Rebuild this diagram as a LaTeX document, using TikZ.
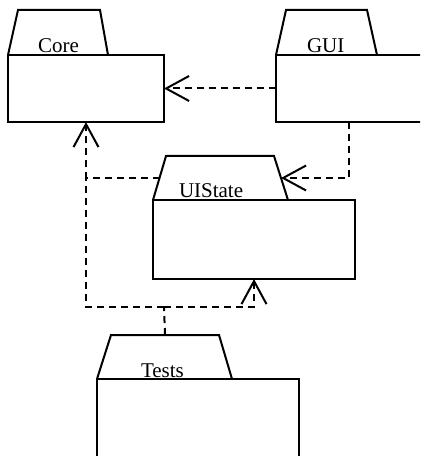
\documentclass[tikz,border=0pt]{standalone}
\usepackage{fontspec}
\setmainfont{Liberation Serif}
\usetikzlibrary{arrows.meta}
\begin{document}
\begin{tikzpicture}[x=1bp,y=-1bp,
  line width=2bp,
  body/.style={draw, rectangle, anchor=north west, outer sep=0pt, inner sep=0pt},
  tab/.style={draw, line join=miter},
  pkglabel/.style={anchor=base west, inner sep=0pt, font=\fontsize{21bp}{25bp}\selectfont},
  dep/.style={dashed, dash pattern=on 7bp off 5bp,
    -{Straight Barb[length=23bp,width=25bp,line width=2bp]}},
  depline/.style={dashed, dash pattern=on 7bp off 5bp}]
\useasboundingbox (0,0) rectangle (420,456);
\clip (0,0) rectangle (420,456);

% Core package
\draw[tab] (8,55) -- (18,10) -- (100,10) -- (108,55);
\node[body, minimum width=156bp, minimum height=67bp] (core) at (8,55) {};
\node[pkglabel] (coreL) at (37,53) {Core};

% GUI package (runs past the right edge)
\draw[tab] (276,55) -- (286,10) -- (367,10) -- (377,55);
\node[body, minimum width=156bp, minimum height=67bp] (gui) at (276,55) {};
\node[pkglabel] (guiL) at (306,53) {GUI};

% UIState package
\draw[tab] (153,200) coordinate (uiBL) -- (166,156) coordinate (uiTL)
  -- (274,156) coordinate (uiTR) -- (288,200) coordinate (uiBR);
\path (uiBL) -- (uiTL) coordinate[pos=0.5] (uiW);
\path (uiBR) -- (uiTR) coordinate[pos=0.5] (uiE);
\node[body, minimum width=202bp, minimum height=79bp] (ui) at (153,200) {};
\node[pkglabel] (uiL) at (178,198) {UIState};

% Tests package (runs past the bottom edge)
\draw[tab] (97,379) -- (111,335) coordinate (tTL) -- (219,335) coordinate (tTR) -- (232,379);
\path (tTL) -- (tTR) coordinate[pos=0.5] (testsTop);
\node[body, minimum width=202bp, minimum height=100bp] (tests) at (97,379) {};
\node[pkglabel] (testsL) at (140,377) {Tests};

% dependencies
\coordinate (tj) at (164,307);
\coordinate (cj) at (86,178);
\draw[dep] (gui.west) -- (core.east);
\draw[dep] ([xshift=73bp]gui.south west) |- (uiE);
\draw[dep] (uiW) -| (core.south);
\draw[depline] (testsTop) -- (tj);
\draw[depline] (tj) -| (cj);
\draw[dep] (tj) -| (ui.south);
\end{tikzpicture}
\end{document}
